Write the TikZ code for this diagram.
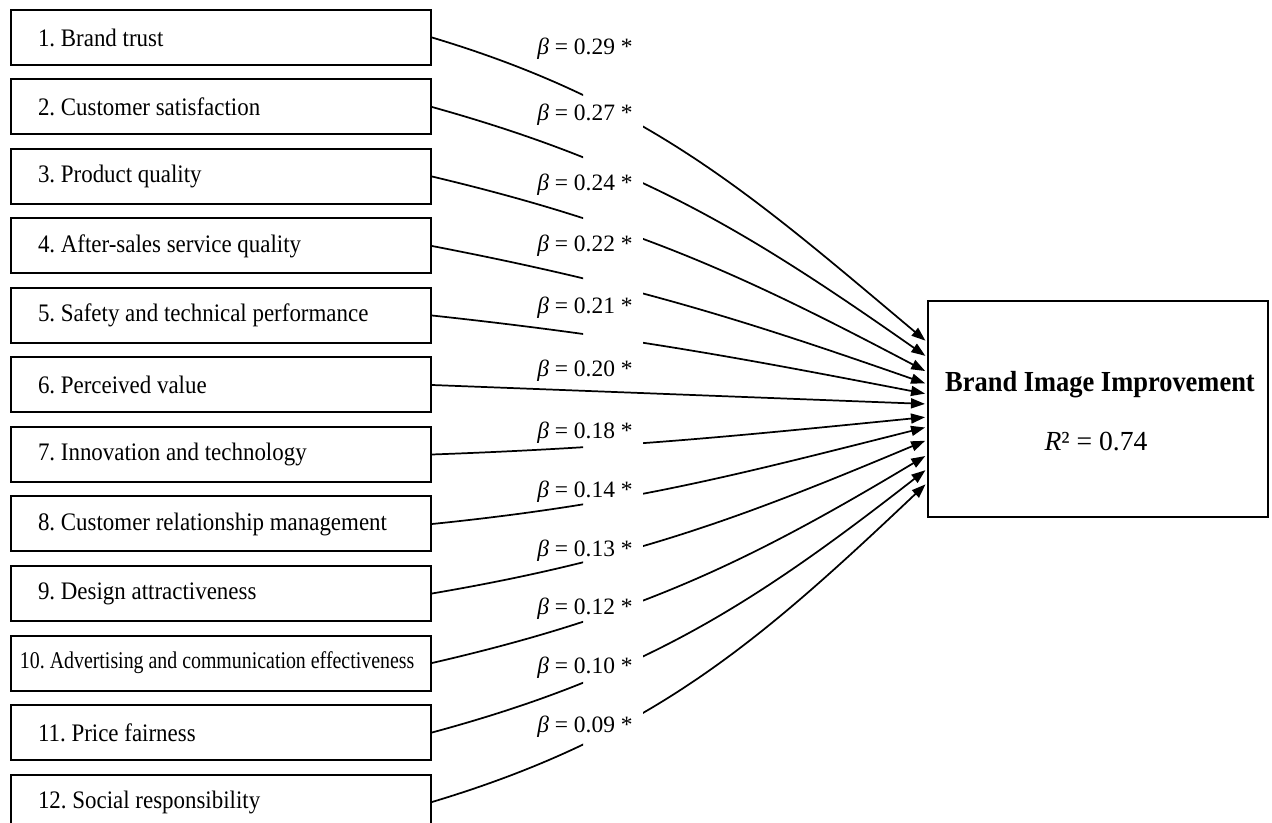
\documentclass[tikz,border=0pt]{standalone}
\usepackage{fontspec}
\setmainfont[FakeStretch=0.91]{Liberation Serif}
\newfontfamily\plainserif{Liberation Serif}
\usetikzlibrary{arrows.meta,calc}
\tikzset{
  ar/.style={-{Triangle[length=10.5pt,width=7.5pt]},line width=1.3pt,shorten >=1.5pt},
  box/.style={draw,line width=1.5pt,rectangle,minimum height=41.25pt,inner xsep=20.25pt,text width=274.5pt,align=flush left,font=\fontsize{18.9}{22}\selectfont},
  lab/.style={anchor=west,inner sep=0pt,font=\fontsize{17.6}{21}\plainserif},
  dvbox/.style={draw,line width=1.5pt,minimum width=255pt,minimum height=162pt}
}
\frenchspacing

\begin{document}
\begin{tikzpicture}[x=0.75pt,y=-0.75pt]
\useasboundingbox (0,0) rectangle (1272,823);
\clip (0,0) rectangle (1272,823);
\fill[white] (0,0) rectangle (1272,823);
% predictors
\foreach \i/\t in {1/{1. Brand trust},2/{2. Customer satisfaction},3/{3. Product quality},
  4/{4. After-sales service quality},5/{5. Safety and technical performance},6/{6. Perceived value},
  7/{7. Innovation and technology},8/{8. Customer relationship management},9/{9. Design attractiveness},
  11/{11. Price fairness},12/{12. Social responsibility}}
  \node[box] (b\i) at (221,{37.5+69.5*(\i-1)}) {\t};
\node[box,inner xsep=6.75pt,text width=301.5pt] (b10) at (221,663) {\scalebox{0.91}[1]{\fontsize{18}{20}\selectfont 10. Advertising and communication effectiveness}};
% outcome
\node[dvbox] (dv) at (1098,409) {};
\node[font=\fontsize{21.8}{26}\selectfont\bfseries] (dvname) at (1100,385) {Brand Image Improvement};
\node[font=\fontsize{20.7}{25}\plainserif] (dvr) at (1096,442) {\textit{R}² = 0.74};
% paths
\begin{scope}
\clip (0,0) rectangle (583,823) (643,0) rectangle (1272,823);
\foreach \i/\ty/\ax/\ay/\bx/\by in {1/342/217/65/-174/-146,2/357/208/58/-177/-124,
  3/372/202/48/-184/-97,4/384/197/38/-189/-66,5/394/194/21/-192/-37,
  7/417/193/-7/-192/19,8/427/196/-20/-191/48,9/440/199/-34/-186/78,
  10/455/204/-47/-180/108,11/469/211/-57/-173/135,12/483/220/-66/-167/158}
  \draw[ar] (b\i.east) .. controls +(\ax,\ay) and +(\bx,\by) .. (dv.west |- 0,\ty);
\end{scope}
\draw[ar] (b6.east) -- (dv.west |- 0,404);
% coefficients
\foreach \i/\val/\yy in {1/0.29/49,2/0.27/115,3/0.24/185,4/0.22/246,5/0.21/308,6/0.20/371,
  7/0.18/433,8/0.14/492,9/0.13/551,10/0.12/609,11/0.10/668,12/0.09/727}
  \node[lab] (lab\i) at (537,\yy) {\textit{β} = \val\ *};
\end{tikzpicture}
\end{document}
